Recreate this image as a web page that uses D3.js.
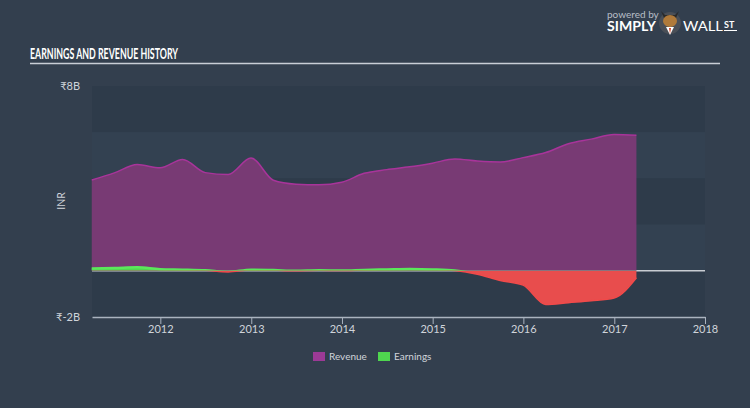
<!DOCTYPE html>
<html><head><meta charset="utf-8">
<script src="https://cdn.jsdelivr.net/npm/d3@7"></script>
<style>
html,body{margin:0;padding:0;background:#333f4e;}
svg{display:block;}
text{font-family:Lato,"Open Sans",sans-serif;}
</style></head>
<body>
<svg id="chart" width="750" height="408"></svg>
<script>
const dates = ["2011-03-31","2011-06-30","2011-09-30","2011-12-31","2012-03-31","2012-06-30","2012-09-30","2012-12-31",
"2013-03-31","2013-06-30","2013-09-30","2013-12-31","2014-03-31","2014-06-30","2014-09-30","2014-12-31",
"2015-03-31","2015-06-30","2015-09-30","2015-12-31","2016-03-31","2016-06-30","2016-09-30","2016-12-31","2017-03-31"];
const revenue = [3.93,4.24,4.6,4.46,4.82,4.25,4.17,4.88,3.92,3.75,3.72,3.83,4.22,4.38,4.5,4.66,4.84,4.75,4.71,4.9,5.12,5.5,5.7,5.9,5.87];
const earnings = [0.1,0.12,0.15,0.07,0.05,0.02,-0.05,0.05,0.03,0.0,0.02,0.01,0.04,0.06,0.08,0.06,0.01,-0.15,-0.42,-0.62,-1.46,-1.38,-1.3,-1.18,-0.3];
const yTickLabels = ["₹8B","₹-2B"];
const yTickValues = [8,-2];
const xTickYears = [2012,2013,2014,2015,2016,2017,2018];
const legendItems = ["Revenue","Earnings"];
const title = "EARNINGS AND REVENUE HISTORY";

const parse = d3.timeParse("%Y-%m-%d");
const data = dates.map((d,i)=>({date:parse(d),rev:revenue[i],earn:earnings[i]}));

const svg = d3.select("#chart");
const W=750,H=408;
svg.append("rect").attr("width",W).attr("height",H).attr("fill","#333f4e");

const x = d3.scaleTime().domain([parse("2011-04-01"),new Date(2018,0,1)]).range([92,705]);
const y = d3.scaleLinear().domain([-2,8]).range([317,86]);

// bands
const bandEdges=[8,6,4,2,0,-2];
for(let i=0;i<bandEdges.length-1;i++){
  svg.append("rect").attr("x",92).attr("width",705-92)
    .attr("y",y(bandEdges[i])).attr("height",y(bandEdges[i+1])-y(bandEdges[i]))
    .attr("fill", i%2===0 ? "#2e3b4a" : "#334151");
}

// title
svg.append("text").attr("x",30).attr("y",59).text(title)
  .attr("fill","#ffffff").attr("font-family","'DejaVu Sans Condensed','Liberation Sans Narrow',sans-serif")
  .attr("font-weight","bold").attr("font-size",15.5).attr("textLength",148).attr("lengthAdjust","spacingAndGlyphs");
svg.append("line").attr("x1",30).attr("x2",720).attr("y1",63.5).attr("y2",63.5)
  .attr("stroke","#c9ced6").attr("stroke-width",1.5);

// zero line
svg.append("line").attr("x1",92).attr("x2",705).attr("y1",y(0)).attr("y2",y(0))
  .attr("stroke","#c8ccd2").attr("stroke-width",1.5);

const curve = d3.curveMonotoneX;
// revenue
svg.append("path").datum(data)
  .attr("d",d3.area().x(d=>x(d.date)).y0(y(0)).y1(d=>y(d.rev)).curve(curve))
  .attr("fill","#7b3a76").attr("opacity",0.97);
svg.append("path").datum(data)
  .attr("d",d3.line().x(d=>x(d.date)).y(d=>y(d.rev)).curve(curve))
  .attr("fill","none").attr("stroke","#a8349a").attr("stroke-width",1.5);

// earnings clips
const defs = svg.append("defs");
defs.append("clipPath").attr("id","pos").append("rect").attr("x",0).attr("y",0).attr("width",W).attr("height",y(0));
defs.append("clipPath").attr("id","neg").append("rect").attr("x",0).attr("y",y(0)).attr("width",W).attr("height",H);
const eArea = d3.area().x(d=>x(d.date)).y0(y(0)).y1(d=>y(d.earn)).curve(curve);
const eLine = d3.line().x(d=>x(d.date)).y(d=>y(d.earn)).curve(curve);
const gPos = svg.append("g").attr("clip-path","url(#pos)");
gPos.append("path").datum(data).attr("d",eArea).attr("fill","#4fd64f");
gPos.append("path").datum(data).attr("d",eLine).attr("fill","none").attr("stroke","#5be85b").attr("stroke-width",2.5);
const gNeg = svg.append("g").attr("clip-path","url(#neg)");
gNeg.append("path").datum(data).attr("d",eArea).attr("fill","#e84d4d");
gNeg.append("path").datum(data).attr("d",eLine).attr("fill","none").attr("stroke","#f04a4a").attr("stroke-width",1.5);

// x axis
const xAxis = d3.axisBottom(x).tickValues(xTickYears.map(yy=>new Date(yy,0,1)))
  .tickFormat(d3.timeFormat("%Y")).tickSize(7).tickSizeOuter(0);
const gx = svg.append("g").attr("transform",`translate(0,317)`).call(xAxis);
gx.select(".domain").attr("stroke","#aab3bf").attr("stroke-width",1.5);
gx.selectAll(".tick line").attr("stroke","#aab3bf").attr("stroke-width",1);
gx.selectAll(".tick text").attr("fill","#d0d4da").attr("font-size",11).attr("dy","0.5em")
  .attr("font-family","Lato,sans-serif");

// y labels
yTickValues.forEach((v,i)=>{
  svg.append("text").attr("x",80).attr("y",y(v)).attr("dy","0.35em").attr("text-anchor","end")
    .attr("fill","#d0d4da").attr("font-size",11).text(yTickLabels[i]);
});
svg.append("text").attr("transform","translate(61,201) rotate(-90)").attr("text-anchor","middle")
  .attr("dy","0.35em").attr("fill","#d0d4da").attr("font-size",10.5).text("INR");

// legend
const legColors=["#9c3a96","#4fd64f"];
const legX=[313,378];
legendItems.forEach((t,i)=>{
  svg.append("rect").attr("x",legX[i]).attr("y",352).attr("width",12).attr("height",9).attr("fill",legColors[i]);
  svg.append("text").attr("x",legX[i]+16).attr("y",356.5).attr("dy","0.35em").attr("fill","#d0d4da")
    .attr("font-size",10).text(t);
});

// logo
svg.append("text").attr("x",607).attr("y",18).attr("fill","#b8bec7").attr("font-size",10).text("powered by");
svg.append("text").attr("x",607).attr("y",31).attr("fill","#ffffff").attr("font-weight","bold")
  .attr("font-size",12.5).attr("textLength",49).attr("lengthAdjust","spacingAndGlyphs").text("SIMPLY");
const logo = svg.append("g").attr("transform","translate(670,23)");
logo.append("circle").attr("r",11).attr("fill","#4a4f57");
logo.append("path").attr("d","M-9,-12 L-6,-5 L6,-5 L9,-12 L5,-8 L-5,-8 Z").attr("fill","#2a2a2a");
logo.append("ellipse").attr("cx",0).attr("cy",-2).attr("rx",7).attr("ry",6).attr("fill","#b07a3a");
logo.append("path").attr("d","M-4,4 L0,12 L4,4 Z").attr("fill","#ffffff");
logo.append("path").attr("d","M-1,5 L0,11 L1,5 Z").attr("fill","#d04020");
svg.append("text").attr("x",683).attr("y",31).attr("fill","#ffffff").attr("font-size",12.5)
  .attr("textLength",40).attr("lengthAdjust","spacingAndGlyphs").text("WALL");
svg.append("text").attr("x",724).attr("y",28).attr("fill","#ffffff").attr("font-weight","bold").attr("font-size",9).text("ST");
svg.append("line").attr("x1",724).attr("x2",737).attr("y1",30.5).attr("y2",30.5).attr("stroke","#ffffff").attr("stroke-width",1);
</script>
</body></html>
